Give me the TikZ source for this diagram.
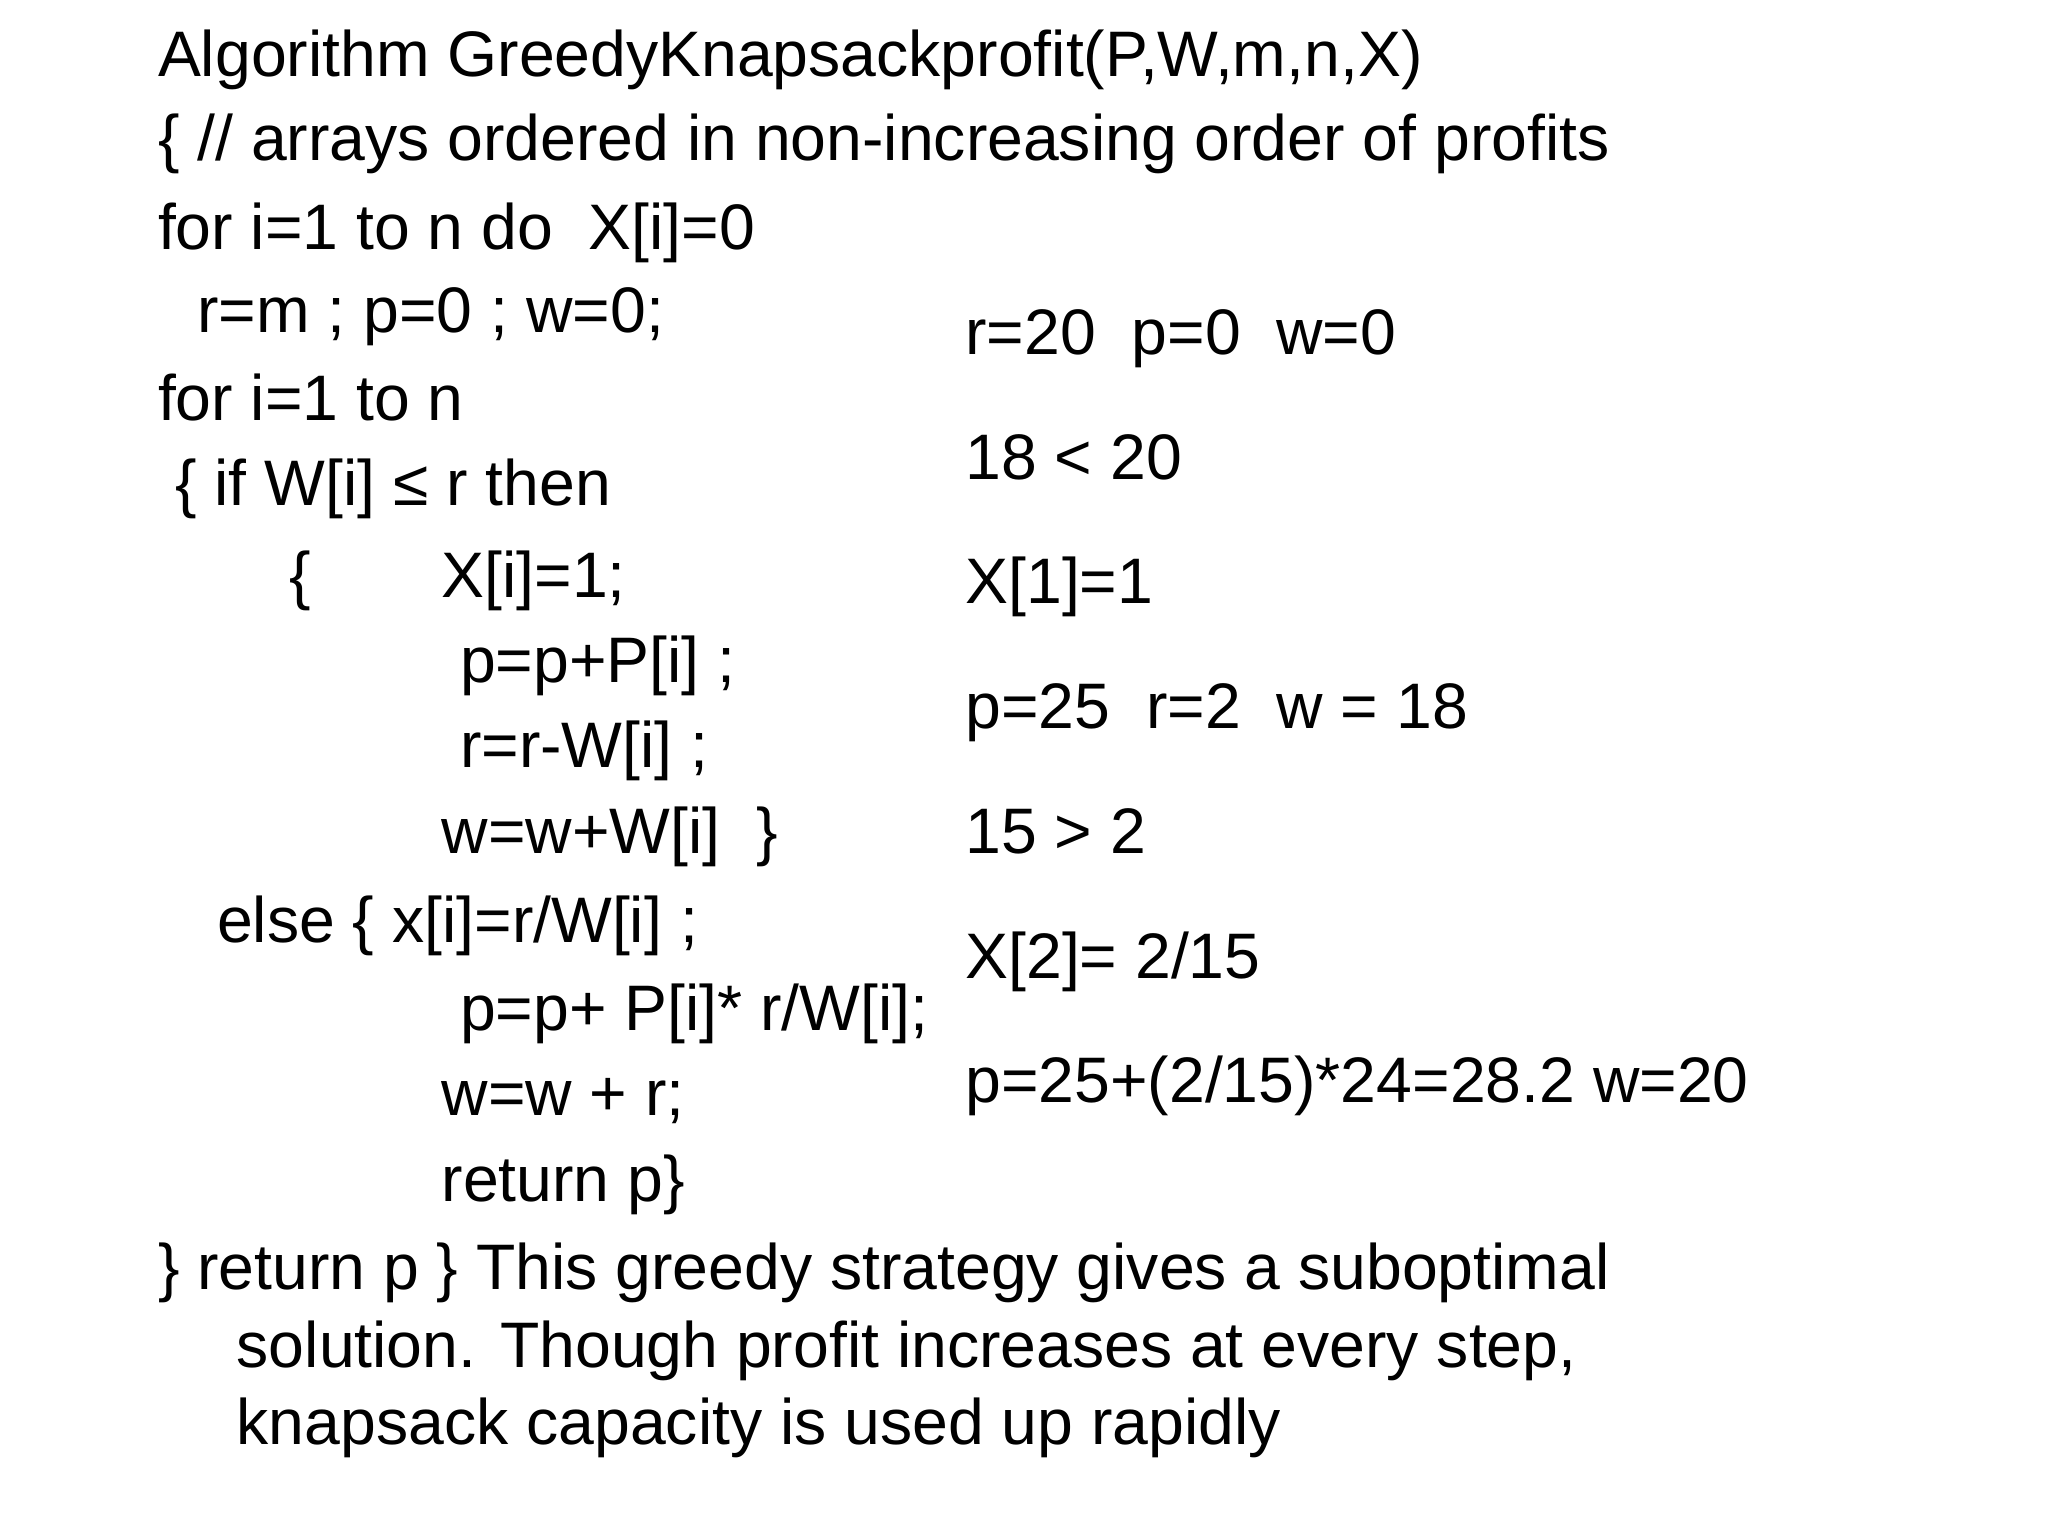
\documentclass[tikz,border=0pt]{standalone}
\usepackage{fontspec}
\setmainfont{Liberation Sans}
\begin{document}
\begin{tikzpicture}[x=0.5pt,y=-0.5pt,
  t/.style={anchor=base west,inner sep=0pt,font=\fontsize{24.5}{28}\selectfont}]
\useasboundingbox (0,0) rectangle (1560,1170);
\node[t] (l1) at (120,58) {Algorithm GreedyKnapsackprofit(P,W,m,n,X)};
\node[t] (l2) at (120,122) {\{ // arrays ordered in non-increasing order of profits};
\node[t] (l3) at (120,190) {for i=1 to n do\ \ X[i]=0};
\node[t] (l4) at (150,253) {r=m ; p=0 ; w=0;};
\node[t] (l5) at (120,320) {for i=1 to n};
\node[t] (l6) at (133,385) {\{ if W[i] ≤ r then};
\node[t] (l7a) at (220,455) {\{};
\node[t] (l7) at (336,455) {X[i]=1;};
\node[t] (l8) at (350,520) {p=p+P[i] ;};
\node[t] (l9) at (350,585) {r=r-W[i] ;};
\node[t] (l10) at (336,650) {w=w+W[i]\ \ \}};
\node[t] (l11) at (165,718) {else \{ x[i]=r/W[i] ;};
\node[t] (l12) at (350,785) {p=p+ P[i]* r/W[i];};
\node[t] (l13) at (336,850) {w=w + r;};
\node[t] (l14) at (336,915) {return p\}};
\node[t] (l15) at (120,982) {\} return p \} This greedy strategy gives a suboptimal};
\node[t] (l16) at (180,1042) {solution. Though profit increases at every step,};
\node[t] (l17) at (180,1100) {knapsack capacity is used up rapidly};
\node[t] (r1) at (735,270) {r=20\ \ p=0\ \ w=0};
\node[t] (r2) at (735,365) {18 < 20};
\node[t] (r3) at (735,460) {X[1]=1};
\node[t] (r4) at (735,555) {p=25\ \ r=2\ \ w = 18};
\node[t] (r5) at (735,650) {15 > 2};
\node[t] (r6) at (735,745) {X[2]= 2/15};
\node[t] (r7) at (735,840) {p=25+(2/15)*24=28.2 w=20};
\end{tikzpicture}
\end{document}
